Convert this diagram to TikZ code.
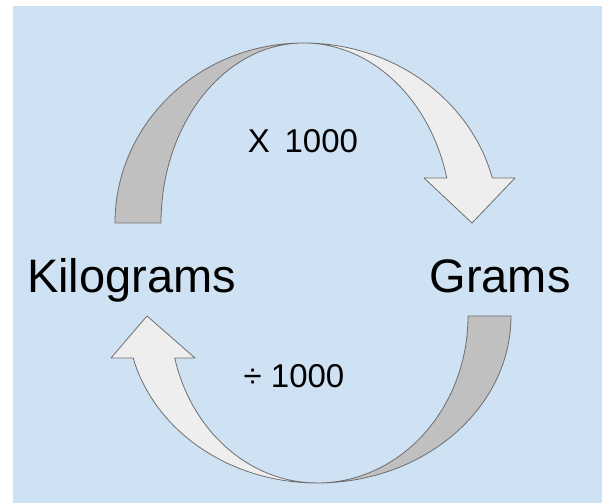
\documentclass[tikz,border=0pt]{standalone}
\usepackage{fontspec}
\setmainfont{Liberation Sans}
\usepackage{tikz}
\usetikzlibrary{positioning}

\definecolor{fond}{HTML}{CFE2F3}
\definecolor{bandesombre}{HTML}{C0C0C0}
\definecolor{bandeclaire}{HTML}{EEEEEE}
\definecolor{trait}{HTML}{6E6E6E}

\tikzset{
  sombre/.style={fill=bandesombre, draw=trait, line width=0.8pt, line join=round},
  claire/.style={fill=bandeclaire, draw=trait, line width=0.8pt, line join=round},
  unite/.style={font=\fontsize{47}{56}\selectfont, anchor=base, inner sep=0pt},
  facteur/.style={font=\fontsize{33}{40}\selectfont, anchor=base, inner sep=0pt}
}

\begin{document}
\begin{tikzpicture}[x=1pt, y=1pt]
  \useasboundingbox (0,0) rectangle (609,503);
  % Fond
  \fill[fond] (13,0) rectangle (602,497);

  % Fleche du haut (kg -> g)
  \begin{scope}
    \draw[sombre] (115,280) arc[start angle=180, end angle=90, x radius=188.5, y radius=180]
      arc[start angle=90, end angle=180, x radius=142.5, y radius=180] -- cycle;
    \draw[claire] (303.5,460) arc[start angle=90, end angle=14.48, x radius=195, y radius=180]
      -- (515,325) -- (472,280) -- (424,325) -- (446.8,325)
      arc[start angle=14.48, end angle=90, x radius=148, y radius=180] -- cycle;
  \end{scope}

  % Fleche du bas (g -> kg)
  \begin{scope}
    \draw[sombre] (511,187) arc[start angle=0, end angle=-90, x radius=194, y radius=167]
      arc[start angle=-90, end angle=0, x radius=151, y radius=167] -- cycle;
    \draw[claire] (317,20) arc[start angle=270, end angle=194.6, x radius=190, y radius=167]
      -- (111,145) -- (147,187) -- (195,145) -- (174.7,145)
      arc[start angle=194.6, end angle=270, x radius=147, y radius=167] -- cycle;
  \end{scope}

  % Unites
  \node[unite] (kilo) at (131.5,210) {Kilograms};
  \node[unite] (gram) at (500,210) {Grams};

  % Facteurs
  \node[facteur] (mult) at (303,350) {X\, 1000};
  \node[facteur] (divi) at (294,116) {÷ 1000};
\end{tikzpicture}
\end{document}
